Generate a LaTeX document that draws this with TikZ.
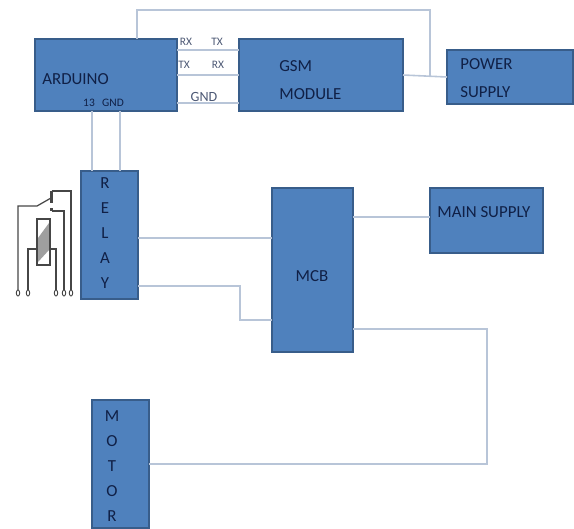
\documentclass[tikz,border=0pt]{standalone}
\usepackage{fontspec}
\setmainfont{Carlito}
\definecolor{boxblue}{RGB}{79,129,189}
\definecolor{boxedge}{RGB}{56,93,138}
\definecolor{wire}{RGB}{184,197,216}
\definecolor{ink}{RGB}{16,32,70}
\definecolor{relayink}{RGB}{70,70,70}
\tikzset{
  block/.style 2 args={draw=boxedge,fill=boxblue,line width=0.8pt,outer sep=0pt,inner sep=0pt,
    minimum width=#1,minimum height=#2},
  blocktext/.style={font=\fontsize{9.6}{13}\selectfont,text=ink,inner sep=0pt,align=left},
  tinytext/.style={font=\fontsize{6.5}{8}\selectfont,text=ink!75,inner sep=0pt},
  link/.style={wire,line width=0.9pt}
}
\begin{document}
\begin{tikzpicture}[x=0.02cm,y=-0.02cm]
    \useasboundingbox (0,0) rectangle (574,528);
    % blocks
    \node[block={2.84cm}{1.44cm}] (arduino) at (106,75) {};
    \node[block={3.28cm}{1.44cm}] (gsm) at (321,75) {};
    \node[block={2.52cm}{1.08cm}] (power) at (510,77) {};
    \node[block={1.14cm}{2.56cm}] (relay) at (109.5,235) {};
    \node[block={1.62cm}{3.28cm}] (mcb) at (312.5,270) {};
    \node[block={2.26cm}{1.30cm}] (mains) at (486.5,220.5) {};
    \node[block={1.14cm}{2.56cm}] (motor) at (120.5,464) {};
    % block texts
    \node[blocktext,anchor=west] (arduinotext) at (42,79) {ARDUINO};
    \node[blocktext,anchor=west] (gsmtext) at (279,80.5) {GSM\\[3pt]MODULE};
    \node[blocktext,anchor=west] (powertext) at (460,78.5) {POWER\\[3pt]SUPPLY};
    \node[blocktext,align=center] (relaytext) at (105,233) {R\\[1.3pt]E\\[1.3pt]L\\[1.3pt]A\\[1.3pt]Y};
    \node[blocktext,anchor=west] (mainstext) at (437,212) {MAIN SUPPLY};
    \node[blocktext] (mcbtext) at (312,276) {MCB};
    \node[blocktext,align=center] (motortext) at (112,466) {M\\[1.3pt]O\\[1.3pt]T\\[1.3pt]O\\[1.3pt]R};
    % pin labels
    \node[tinytext] (rxa) at (186,42) {RX};
    \node[tinytext] (txa) at (217,42) {TX};
    \node[tinytext] (txb) at (184,65) {TX};
    \node[tinytext] (rxb) at (218,65) {RX};
    \node[tinytext,font=\fontsize{8}{10}\selectfont] (gndb) at (204,97) {GND};
    \node[tinytext,text=ink] (pin13) at (89,103) {13};
    \node[tinytext,text=ink] (pingnd) at (113,103) {GND};
    % links
    \coordinate (toplft) at (137,10);
    \coordinate (toprgt) at (430,10);
    \draw[link] (gsm.east) -- (power.west);
    \draw[link] (arduino.north -| toplft) -- (toplft) -- (toprgt) -- (toprgt |- power.west);
    \foreach \y in {50,75,103}{
      \draw[link] (arduino.east |- 0,\y) -- (gsm.west |- 0,\y);}
    \foreach \x in {92,120}{
      \draw[link] (arduino.south -| \x,0) -- (relay.north -| \x,0);}
    \draw[link] (relay.east |- 0,238) -- (mcb.west |- 0,238);
    \draw[link] (relay.east |- 0,286) -- (240,286) -- (240,320) -- (mcb.west |- 0,320);
    \draw[link] (mcb.east |- 0,217) -- (mains.west |- 0,217);
    \coordinate (mcbout) at (487,329);
    \draw[link] (mcb.east |- mcbout) -- (mcbout) -- (mcbout |- motor.east) -- (motor.east);
    % relay symbol
    \draw[relayink,line width=0.7pt] (18,290) -- (18,206) -- (37,206) -- (51,198);
    \draw[relayink,line width=1.4pt] (51.5,191) -- (51.5,203);
    \draw[relayink,line width=0.7pt] (51.5,191) -- (71,191) -- (71,290);
    \draw[relayink,line width=1.4pt] (51.5,208) -- (51.5,211);
    \draw[relayink,line width=0.7pt] (51.5,211) -- (64,211) -- (64,290);
    \fill[gray!75] (49,223) -- (49,250) -- (38,262) -- (38,238) -- cycle;
    \draw[relayink,line width=0.8pt] (37,219) rectangle (50,265);
    \draw[relayink,line width=1.6pt] (39,219) -- (48,219);
    \draw[relayink,line width=0.7pt] (28,290) -- (28,249) -- (37,249);
    \draw[relayink,line width=0.7pt] (50,249) -- (56,249) -- (56,290);
    \foreach \x in {18,28,56,64,71}{
      \draw[relayink,line width=0.5pt] (\x,293) circle [x radius=0.035cm,y radius=0.06cm];}
  \end{tikzpicture}
\end{document}
